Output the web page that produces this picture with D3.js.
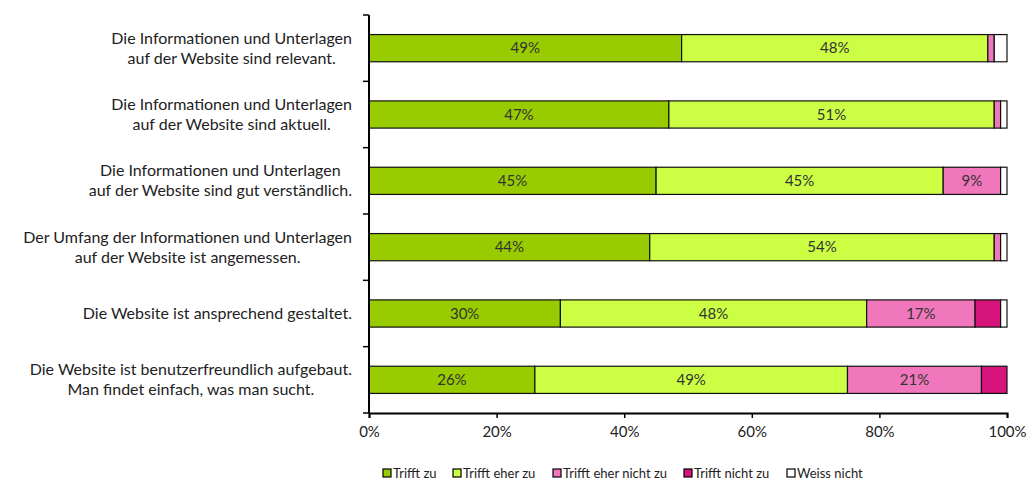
<!DOCTYPE html>
<html><head><meta charset="utf-8">
<script src="https://cdn.jsdelivr.net/npm/d3@7"></script>
<style>
body{margin:0;background:#fff;}
text{font-family:Lato,"Open Sans",sans-serif;fill:#222;}
</style></head>
<body><svg id="c" width="1030" height="481"></svg>
<script>
const categories = [
  ["Die Informationen und Unterlagen","auf der Website sind relevant."],
  ["Die Informationen und Unterlagen","auf der Website sind aktuell."],
  ["Die Informationen und Unterlagen","auf der Website sind gut verständlich."],
  ["Der Umfang der Informationen und Unterlagen","auf der Website ist angemessen."],
  ["Die Website ist ansprechend gestaltet."],
  ["Die Website ist benutzerfreundlich aufgebaut.","Man findet einfach, was man sucht."]
];
const seriesNames = ["Trifft zu","Trifft eher zu","Trifft eher nicht zu","Trifft nicht zu","Weiss nicht"];
const trifftZu        = [49,47,45,44,30,26];
const trifftEherZu    = [48,51,45,54,48,49];
const trifftEherNicht = [1,1,9,1,17,21];
const trifftNicht     = [0,0,0,0,4,4];
const weissNicht      = [2,1,1,1,1,0];
const xTicks = [0,20,40,60,80,100];
const colors = ["#99cc00","#ccff44","#f077bb","#d6147c","#ffffff"];

const series = [trifftZu,trifftEherZu,trifftEherNicht,trifftNicht,weissNicht];
const rows = categories.map((c,i)=>{const o={i};seriesNames.forEach((s,k)=>o[s]=series[k][i]);return o;});
const stack = d3.stack().keys(seriesNames)(rows);

const svg = d3.select("#c");
const m = {l:369,t:15,r:23,b:68};
const W = 1030-m.l-m.r, H = 481-m.t-m.b;
const x = d3.scaleLinear().domain([0,100]).range([m.l,m.l+W]);
const y = d3.scaleBand().domain(d3.range(categories.length)).range([m.t,m.t+H]).paddingInner(0.59).paddingOuter(0.295);

stack.forEach((s,k)=>{
  const g = svg.append("g");
  g.selectAll("rect").data(s).join("rect")
    .attr("x",d=>x(d[0])).attr("y",(d,i)=>y(i))
    .attr("width",d=>Math.max(0,x(d[1])-x(d[0]))).attr("height",y.bandwidth())
    .attr("fill",colors[k]).attr("stroke",(d)=>d[1]-d[0]>0?"#111":"none").attr("stroke-width",1.2);
  g.selectAll("text").data(s.filter(d=>d[1]-d[0]>=5)).join("text")
    .attr("x",d=>(x(d[0])+x(d[1]))/2).attr("y",d=>y(d.data.i)+y.bandwidth()/2)
    .attr("dy","0.35em").attr("text-anchor","middle").attr("font-size",15)
    .style("fill","#333").text(d=>(d[1]-d[0])+"%");
});

// y axis
const step = H/categories.length;
svg.append("line").attr("x1",m.l).attr("x2",m.l).attr("y1",m.t).attr("y2",m.t+H).attr("stroke","#000").attr("stroke-width",2);
d3.range(categories.length+1).forEach(i=>{
  svg.append("line").attr("x1",m.l-6).attr("x2",m.l).attr("y1",m.t+i*step).attr("y2",m.t+i*step).attr("stroke","#000").attr("stroke-width",1.5);
});
// x axis
const xa = svg.append("g").attr("transform",`translate(0,${m.t+H})`)
  .call(d3.axisBottom(x).tickValues(xTicks).tickFormat(d=>d+"%").tickSizeOuter(0).tickSize(5).tickPadding(8));
xa.select(".domain").attr("stroke","#000").attr("stroke-width",2);
xa.selectAll(".tick line").attr("stroke","#000").attr("stroke-width",1.5);
xa.selectAll(".tick text").attr("font-size",15).attr("font-family","Lato").style("fill","#222");

// category labels
const right = 352;
categories.forEach((lines,i)=>{
  const cy = y(i)+y.bandwidth()/2;
  const t = svg.append("text").attr("font-size",16).attr("text-anchor","middle");
  const lh = 20;
  const tsp = lines.map((l,j)=>t.append("tspan").text(l).attr("y",cy+(j-(lines.length-1)/2)*lh).attr("dy","0.35em"));
  const maxW = d3.max(tsp,s=>s.node().getComputedTextLength());
  tsp.forEach(s=>s.attr("x",right-maxW/2));
});

// legend
const legX = [383,453,553,684,787];
seriesNames.forEach((n,k)=>{
  const g = svg.append("g").attr("transform",`translate(${legX[k]},473)`);
  g.append("rect").attr("x",0).attr("y",-4).attr("width",8).attr("height",8).attr("fill",colors[k]).attr("stroke","#000").attr("stroke-width",1.2);
  g.append("text").attr("x",10).attr("y",0).attr("dy","0.35em").attr("font-size",13).text(n);
});
</script></body></html>
